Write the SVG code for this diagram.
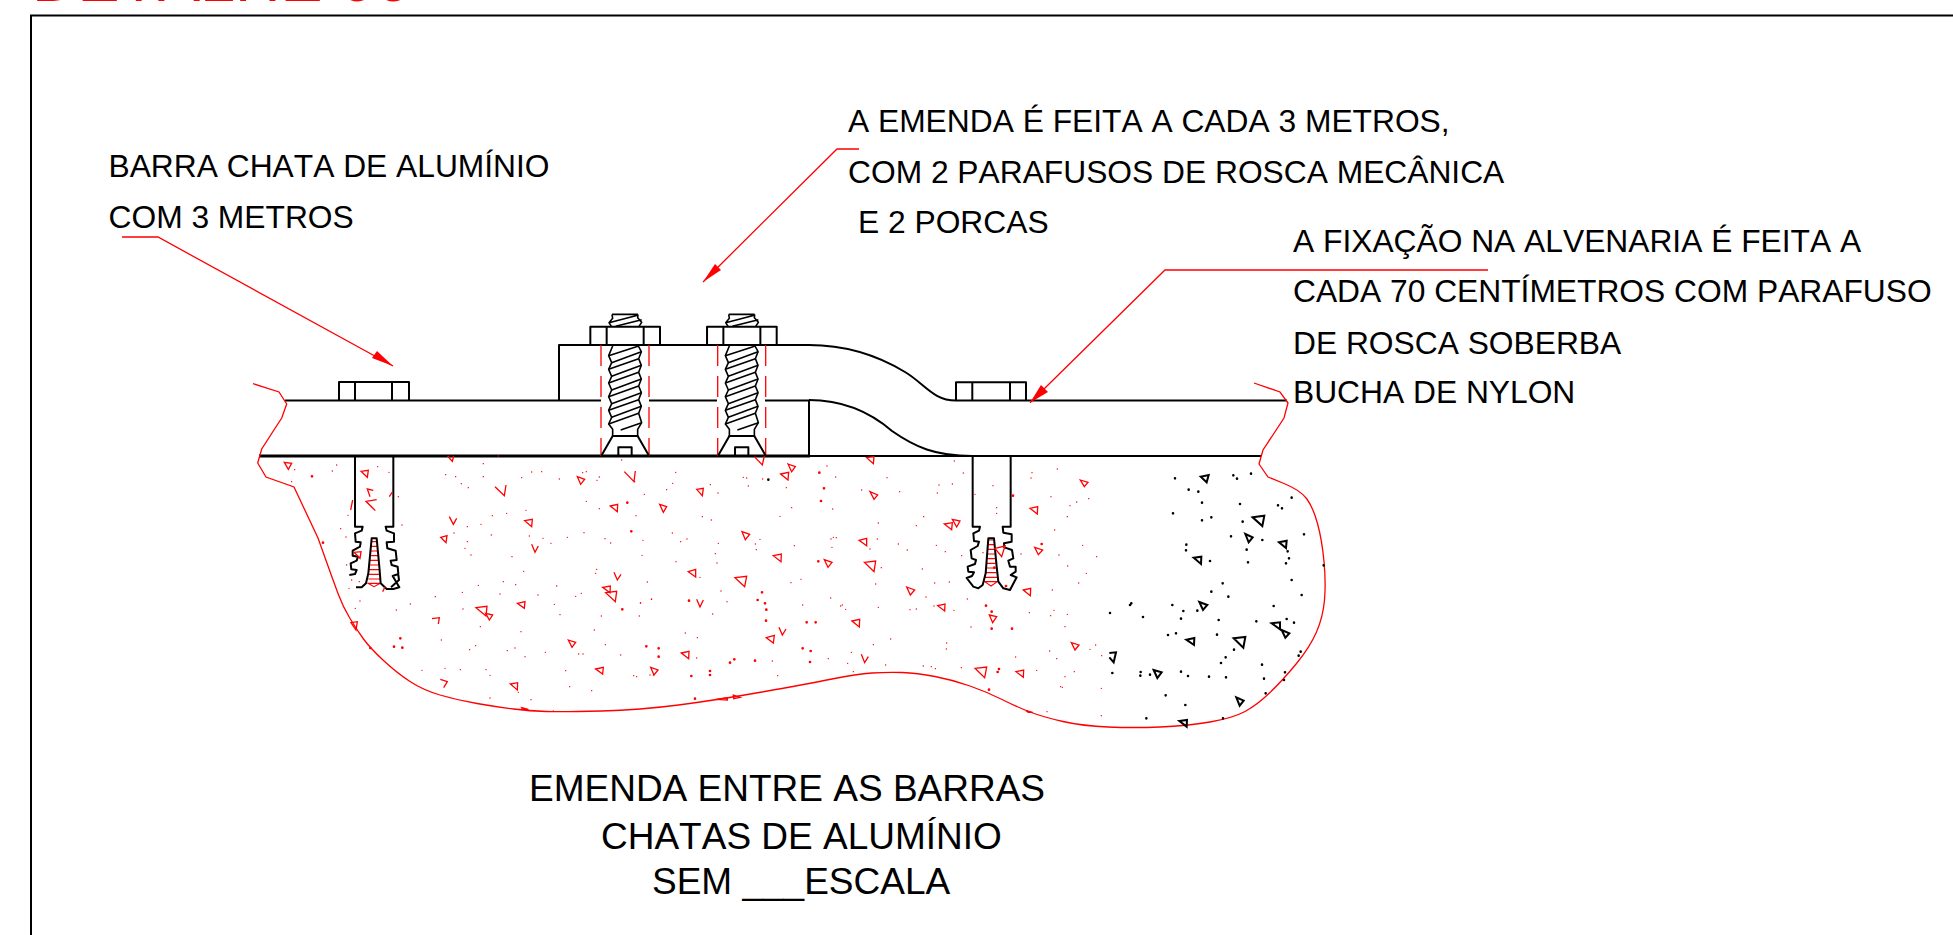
<svg xmlns="http://www.w3.org/2000/svg" width="1953" height="935" viewBox="0 0 1953 935" xmlns:xlink="http://www.w3.org/1999/xlink">
<style>
text{font-family:"Liberation Sans",Arial,sans-serif;fill:#000;font-kerning:none}
.n{font-size:31.75px}
.t{font-size:37px}
.k,.k *{fill:none;stroke:#000;stroke-width:2;vector-effect:non-scaling-stroke;stroke-linejoin:round}
.k .th{stroke-width:1.6}
.h,.h *{fill:none;stroke:#f00;stroke-width:1.1;vector-effect:non-scaling-stroke}
.dash{fill:none;stroke:#f00;stroke-width:1.3;stroke-dasharray:21 10}
.ds,.db,.dk{fill:none;stroke-linecap:round;vector-effect:non-scaling-stroke}
.ds{stroke:#f00;stroke-width:1.4}
.db{stroke:#f00;stroke-width:2.7}
.dk{stroke:#000;stroke-width:2.6}
.tk polygon,.tk polyline{fill:none;stroke:#000;stroke-width:2;vector-effect:non-scaling-stroke}
.tr polygon,.tr polyline{fill:none;stroke:#f00;stroke-width:1.3;vector-effect:non-scaling-stroke}
.lead{fill:none;stroke:#f00;stroke-width:1.3}
.head{fill:#f00;stroke:none}
</style>
<defs>
<g id="screw">
<path class="dash" d="M601 345V456M649 345V456"/>
<g class="k" transform="translate(540 290) scale(.33333)">
<path class="th" d="M218 438V418L206 402L215 382L206 361L215 341L206 320L215 300L206 279L215 259L206 238L215 218L206 197L218 168"/>
<path class="th" d="M293 438V418L305 398L296 370L304 349L296 329L304 308L296 288L304 267L296 247L304 226L296 206L304 185L295 168"/>
<path class="th" d="M206 402L296 370M215 382L304 349M206 361L296 329M215 341L304 308M206 320L296 288M215 300L304 267M206 279L296 247M215 259L304 226M206 238L296 206M215 218L304 185M206 197L296 168M242 420L305 398"/>
<path d="M184 497L218 438H293L327 497M235 497V472H275V497"/>
<path class="th" d="M216 73H294M216 73L218 85L207 98L214 109M294 73L293 83L305 97L297 109M207 98L293 76M227 109L305 89"/>
<path d="M151 165V110H360V165M200 110V165M311 110V165"/>
</g>
</g>
</defs>
<rect width="1953" height="935" fill="#fff"/>
<text x="32" y="0.7" font-size="63" style="fill:#f00">DETALHE 06</text>
<path d="M31 935V15.5H1953" fill="none" stroke="#000" stroke-width="2"/>
<g id="bar">
<g class="k">
<path d="M285 400.5H601M559 400.5V345H809M649 400.5H717M765 400.5H810M809 400V456"/>
<path d="M809 345C840 345 872 352 905 372C925 384 933 400.5 956 400.5M809 400C842 400 870 412 892 431C915 447 935 456 972 456"/>
<path d="M339 400.5V382H409V400.5M355 382V400.5M392 382V400.5"/>
<path d="M956 400.5V382.3H1026V400.5M972.3 382.3V400.5M1010 382.3V400.5"/>
<path d="M956 400.5H1287M810 456H1261"/>
<path d="M259 456H810" style="stroke-width:3"/>
</g>
</g>
<g id="screw-1"><use xlink:href="#screw" href="#screw"/></g>
<g id="screw-2"><use xlink:href="#screw" href="#screw" x="116.7"/></g>
<g id="anchor-left">
<g class="h" transform="translate(230 290) scale(.33333)">
<path d="M424 755H441M423 769H443M422 783H444M420 797H445M419 811H446M418 825H447M417 839H448M416 853H449M415 867H450M414 880H451L432 890Z"/>
</g>
<g class="k" transform="translate(230 290) scale(.33333)">
<path d="M375 498V710H398L395 722L375 730L377 755L392 757L390 770L368 782L368 797L384 800L380 812L362 820L364 838L380 840L375 852L358 855"/>
<path d="M378 892H395L408 880L415 850L425 745H440L448 830L452 880L470 897H490L508 892L488 858L505 852L503 830L485 825L482 812L500 810L497 782L472 775L470 757L492 755L492 730L470 722L467 710H490V498M505 855L507 870L483 892"/>
</g>
</g>
<g id="anchor-right">
<g class="h" transform="translate(800 340) scale(.33333)">
<path d="M565 600H582M564 614H583M563 628H584M562 642H585M561 656H586M560 670H587M558 684H589M557 698H590M555 712H591M554 725H592L573 738Z"/>
</g>
<g class="k" transform="translate(800 340) scale(.33333)">
<path d="M518 348V560H540L537 572L520 580L522 603L537 605L533 618L512 630L515 655L528 660L525 672L503 680L505 695L522 697L516 708L500 714L520 740L535 745L548 735L557 700L565 595H582L590 680L595 725L610 745L630 750L650 712L632 705L647 695L647 680L630 680L625 662L640 655L636 630L613 622L612 610L635 605L635 583L610 578L608 560H632V348"/>
</g>
</g>
<g id="ground">
<path class="lead" d="M253 383.7L279 392L286.7 404L281.7 418L261.7 449L257.7 463L266 477L294 487L318 538L325.5 559Q333 580 338 593.5Q343 607 350 618.5Q357 630 363.5 639Q370 648 383.5 660.5Q397 673 410 681.5Q423 690 440 695Q457 700 477 703.5Q497 707 513.5 709Q530 711 546.5 711.5Q563 712 601.5 711Q640 710 678.5 705Q717 700 762 692Q807 684 832 679Q857 674 872 673Q887 672 902 672.5Q917 673 935 676.5Q953 680 970 686Q987 692 1002 699.5Q1017 707 1030 712Q1043 717 1063 721.5Q1083 726 1108 727Q1133 728 1160 727Q1187 726 1210 722Q1233 718 1245 711.5Q1257 705 1270 692.5Q1283 680 1296.5 663.5Q1310 647 1316.5 632Q1323 617 1324.5 600Q1326 583 1324 561.5Q1322 540 1317.5 523.5Q1313 507 1306.5 498.5Q1300 490 1284 483.5L1268 477L1259 464L1263 450L1284 418L1288 403L1280 392L1254 383"/>
<g transform="translate(230 290) scale(.33333)">
<g class="tr">
<polygon points="163,517 185,520 175,538"/><polygon points="393,544 415,541 412,562"/><polygon points="1042,560 1064,568 1052,583"/><polygon points="1141,648 1163,643 1162,665"/><polygon points="884,692 907,688 905,710"/><polygon points="632,742 651,737 648,758"/><polygon points="1118,892 1141,888 1140,908"/><polygon points="1127,908 1160,904 1156,935"/><polygon points="372,787 393,785 390,805"/>
<polyline points="795,590 823,617 828,585"/><polyline points="1183,545 1212,575 1216,543"/><polyline points="658,680 670,703 680,685"/><polyline points="905,763 915,787 925,768"/><polyline points="1152,847 1162,870 1173,853"/><polyline points="653,498 667,514 671,498"/><polyline points="440,629 408,634 436,662"/><polyline points="430,601 412,597 420,620"/><polyline points="368,630 362,660"/><polyline points="478,620 487,606"/><polyline points="458,905 465,890"/>
</g>
<path class="db" d="M246 559h.01M279 758h.01M1192 638h.01M1204 724h.01"/>
<path class="ds" d="M194 539h.01M320 525h.01M307 543h.01M185 575h.01M443 530h.01M477 547h.01M505 620h.01M354 676h.01M332 716h.01M348 741h.01M516 705h.01M760 521h.01M760 560h.01M647 554h.01M677 560h.01M694 581h.01M715 593h.01M875 563h.01M905 546h.01M935 545h.01M988 567h.01M1058 548h.01M1069 545h.01M1108 561h.01M1101 571h.01M1175 510h.01M1214 575h.01M1069 634h.01M1108 656h.01M830 670h.01M888 661h.01M787 677h.01M753 703h.01M712 710h.01M1218 677h.01M672 729h.01M784 735h.01M898 738h.01M939 745h.01M963 760h.01M1012 742h.01M1062 728h.01M1125 746h.01M1142 759h.01M712 755h.01M705 775h.01M723 795h.01M846 800h.01M881 844h.01M1100 838h.01M1097 850h.01M350 825h.01M365 870h.01M357 895h.01M388 875h.01M805 498h.01"/>
</g>
<g transform="translate(330 580) scale(.33333)">
<g class="tr">
<polygon points="438,83 471,79 468,108"/><polygon points="467,100 488,105 478,120"/><polygon points="562,70 585,65 583,85"/><polygon points="715,180 737,187 726,202"/><polygon points="797,267 820,262 818,282"/><polygon points="541,312 563,308 562,330"/><polygon points="63,128 82,125 78,150"/><polygon points="575,383 595,388 578,388"/>
<polyline points="306,116 328,113 325,132"/><polyline points="331,298 352,305 341,323"/>
</g>
<path class="db" d="M211 175h.01M192 200h.01M217 203h.01M121 204h.01M877 88h.01"/>
<path class="ds" d="M445 16h.01M397 37h.01M316 50h.01M510 42h.01M624 45h.01M680 18h.01M737 49h.01M754 40h.01M520 5h.01M557 14h.01M673 73h.01M241 72h.01M199 90h.01M399 87h.01M90 63h.01M76 85h.01M690 104h.01M814 108h.01M931 69h.01M965 57h.01M928 108h.01M451 140h.01M573 155h.01M793 150h.01M334 180h.01M826 194h.01M437 197h.01M419 209h.01M532 212h.01M555 204h.01M646 217h.01M585 230h.01M746 222h.01M759 222h.01M872 225h.01M276 271h.01M345 265h.01M391 269h.01M468 269h.01M480 286h.01M707 272h.01M911 287h.01M920 290h.01M719 320h.01M785 332h.01M565 337h.01M480 354h.01M603 359h.01M670 393h.01"/>
</g>
<g transform="translate(640 455) scale(.33333)">
<g class="tr">
<polygon points="170,103 190,100 187,122"/><polygon points="59,148 80,155 70,172"/><polygon points="444,27 466,35 455,50"/><polygon points="422,57 446,52 444,75"/><polygon points="680,8 702,5 700,26"/><polygon points="690,110 713,120 702,133"/><polygon points="306,230 329,238 316,254"/><polygon points="657,256 680,250 680,272"/><polygon points="913,207 937,203 935,224"/><polygon points="937,193 960,198 950,216"/><polygon points="400,302 424,297 423,320"/><polygon points="553,314 576,322 564,337"/><polygon points="673,322 707,318 702,350"/><polygon points="145,350 167,343 167,366"/><polygon points="285,368 320,364 314,395"/><polygon points="800,396 824,405 811,420"/><polygon points="893,452 915,447 914,468"/><polygon points="636,498 659,493 658,516"/><polygon points="379,548 403,541 400,564"/><polygon points="124,594 147,589 146,611"/><polygon points="32,637 54,645 42,660"/><polygon points="229,733 262,728 262,735"/><polygon points="280,720 300,727 281,731"/>
<polyline points="343,5 367,30 373,3"/><polyline points="170,433 180,456 190,435"/><polyline points="417,517 427,540 438,522"/><polyline points="664,598 674,623 685,605"/>
</g>
<path class="db" d="M538 53h.01M552 100h.01M543 138h.01M535 319h.01M366 412h.01M353 435h.01M375 445h.01M379 464h.01M378 497h.01M147 437h.01M500 502h.01M527 502h.01M19 574h.01M56 580h.01M56 605h.01M488 580h.01M512 588h.01M510 621h.01M345 617h.01M283 613h.01M270 623h.01M154 663h.01M210 648h.01M210 660h.01M165 731h.01"/>
<path class="ds" d="M107 52h.01M98 85h.01M80 104h.01M13 118h.01M211 89h.01M234 114h.01M310 67h.01M320 69h.01M325 93h.01M368 72h.01M439 98h.01M561 33h.01M587 66h.01M741 68h.01M665 105h.01M779 110h.01M943 18h.01M970 54h.01M897 90h.01M937 87h.01M892 114h.01M455 158h.01M420 184h.01M578 162h.01M187 185h.01M214 195h.01M715 204h.01M851 185h.01M829 212h.01M97 234h.01M122 260h.01M141 252h.01M9 256h.01M235 265h.01M346 267h.01M360 253h.01M349 284h.01M226 296h.01M231 324h.01M6 301h.01M108 320h.01M463 272h.01M573 252h.01M580 247h.01M589 248h.01M576 277h.01M712 252h.01M775 267h.01M802 285h.01M690 282h.01M889 271h.01M916 290h.01M965 302h.01M724 338h.01M847 342h.01M180 367h.01M22 381h.01M243 408h.01M261 440h.01M218 477h.01M34 433h.01M2 444h.01M453 383h.01M483 373h.01M707 387h.01M884 384h.01M928 381h.01M858 426h.01M572 429h.01M488 450h.01M602 453h.01M607 450h.01M617 463h.01M715 457h.01M810 464h.01M829 462h.01M882 453h.01M942 466h.01M982 432h.01M136 534h.01M172 548h.01M170 609h.01M397 618h.01M413 662h.01M565 611h.01M634 592h.01M623 625h.01M640 650h.01M700 569h.01M752 552h.01M920 564h.01M919 582h.01M850 633h.01M874 635h.01M886 641h.01M964 638h.01M737 630h.01M30 660h.01M40 660h.01"/>
<path class="dk" d="M385 74h.01"/>
</g>
<g transform="translate(900 460) scale(.33333)">
<g class="tr">
<polygon points="541,60 564,67 553,80"/><polygon points="390,145 413,140 412,162"/><polygon points="404,262 428,270 415,284"/><polygon points="285,265 315,258 305,290"/><polygon points="370,390 392,385 391,407"/><polygon points="514,548 537,555 525,570"/><polygon points="225,625 260,621 254,653"/><polygon points="348,635 371,630 370,652"/><polygon points="268,465 290,470 278,488"/><polygon points="378,752 398,757 385,757"/>
</g>
<path class="db" d="M339 107h.01M258 437h.01M275 455h.01M275 506h.01M336 506h.01M297 627h.01M293 636h.01M267 689h.01M318 378h.01M283 323h.01M425 252h.01"/>
<path class="ds" d="M396 38h.01M393 54h.01M472 27h.01M279 77h.01M290 143h.01M290 160h.01M225 103h.01M453 110h.01M530 126h.01M510 137h.01M566 116h.01M502 170h.01M464 210h.01M548 256h.01M477 285h.01M590 290h.01M503 318h.01M559 340h.01M536 369h.01M457 390h.01M363 282h.01M249 278h.01M388 458h.01M462 451h.01M452 467h.01M502 463h.01M495 500h.01M213 501h.01M570 568h.01M587 555h.01M605 587h.01M449 573h.01M470 596h.01M347 591h.01M410 631h.01M523 635h.01M495 650h.01M482 680h.01M487 682h.01M604 685h.01M441 755h.01M604 767h.01"/>
<g class="tk">
<polygon points="902,50 926,45 920,67"/><polygon points="1058,172 1093,167 1087,198"/><polygon points="1036,222 1058,232 1046,247"/><polygon points="1137,247 1160,242 1158,264"/><polygon points="881,293 904,290 903,312"/><polygon points="898,426 922,435 909,450"/><polygon points="1115,490 1140,487 1140,508"/><polygon points="1145,510 1168,520 1156,533"/><polygon points="859,539 883,534 882,555"/><polygon points="1001,535 1036,531 1030,563"/><polygon points="761,630 785,637 772,654"/><polygon points="1009,712 1031,722 1019,737"/><polygon points="838,783 861,780 860,800"/>
<polyline points="628,579 648,577 641,607 628,592"/>
</g>
<path class="dk" d="M825 55h.01M1000 46h.01M1011 56h.01M1053 41h.01M866 89h.01M895 95h.01M906 128h.01M1020 132h.01M1134 136h.01M1146 145h.01M1175 113h.01M819 160h.01M906 181h.01M934 172h.01M1028 185h.01M993 229h.01M1087 240h.01M1212 223h.01M859 254h.01M858 271h.01M1040 269h.01M1163 274h.01M1167 295h.01M930 303h.01M1044 307h.01M1158 310h.01M1271 316h.01M1175 360h.01M968 370h.01M934 395h.01M985 410h.01M1205 405h.01M1121 438h.01M817 435h.01M850 453h.01M892 452h.01M690 435h.01M694 430h.01M630 459h.01M729 471h.01M843 476h.01M956 480h.01M1069 484h.01M1160 477h.01M1182 488h.01M804 525h.01M828 520h.01M951 524h.01M1002 569h.01M1202 575h.01M1196 587h.01M977 592h.01M963 609h.01M1086 614h.01M637 639h.01M722 636h.01M721 647h.01M750 644h.01M843 635h.01M864 648h.01M927 650h.01M978 652h.01M1155 637h.01M1092 656h.01M1152 660h.01M1097 700h.01M797 706h.01M856 735h.01M739 775h.01M969 775h.01"/>
</g>
</g>
<g id="connectors">
<path class="lead" d="M122 237H158L393 366"/><path class="head" d="M393 366L372 358L377 351Z"/>
<path class="lead" d="M859 149H837L703 282"/><path class="head" d="M703 282L715 264L721 270Z"/>
<path class="lead" d="M1488 270H1165L1030 402.7"/><path class="head" d="M1030 402.7L1041 385L1048 392Z"/>
</g>
<g id="labels">
<text class="n" x="108.5" y="177">BARRA CHATA DE ALUMÍNIO</text>
<text class="n" x="108.5" y="228">COM 3 METROS</text>
<text class="n" x="848" y="132">A EMENDA É FEITA A CADA 3 METROS,</text>
<text class="n" x="848" y="182.5">COM 2 PARAFUSOS DE ROSCA MECÂNICA</text>
<text class="n" x="858" y="233">E 2 PORCAS</text>
<text class="n" x="1293" y="252">A FIXAÇÃO NA ALVENARIA É FEITA A</text>
<text class="n" x="1293" y="302">CADA 70 CENTÍMETROS COM PARAFUSO</text>
<text class="n" x="1293" y="354">DE ROSCA SOBERBA</text>
<text class="n" x="1293" y="403">BUCHA DE NYLON</text>
<text class="t" x="529" y="801">EMENDA ENTRE AS BARRAS</text>
<text class="t" x="601" y="849">CHATAS DE ALUMÍNIO</text>
<text class="t" x="652" y="894">SEM ___ESCALA</text>
</g>
</svg>
